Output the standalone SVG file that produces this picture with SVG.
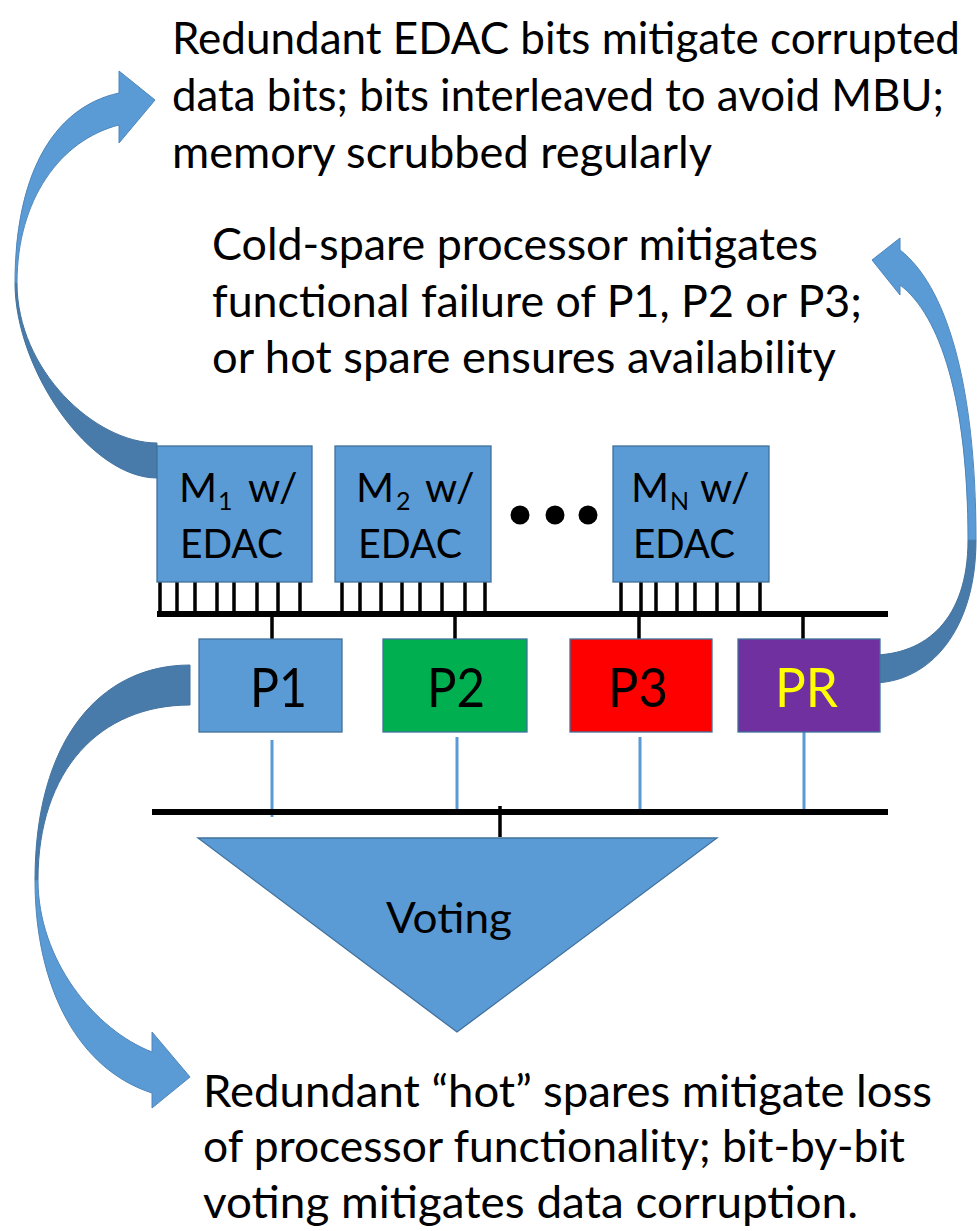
<svg xmlns="http://www.w3.org/2000/svg" width="977" height="1231" viewBox="0 0 977 1231">
<style>
.t{font-family:Lato,"Open Sans","Liberation Sans",sans-serif;fill:#000}
.blk{fill:#5B9BD5;stroke:#41719C;stroke-width:1.3}
.bus{stroke:#000;stroke-width:6;fill:none}
.pin{stroke:#000;stroke-width:3.5;fill:none}
.lb{stroke:#5B9BD5;stroke-width:3;fill:none}
.arL{fill:#5B9BD5;stroke:#4F86BA;stroke-width:1}
.arD{fill:#497BAA;stroke:#43739F;stroke-width:1}
.big{font-size:44px}
.mt{font-size:41px}
.sub{font-size:25px}
.pt{font-size:55px}
</style>
<rect width="977" height="1231" fill="#fff"/>

<g id="connectors">
  <g id="arrow-edac">
    <path class="arD" d="M15,283 C15,370 90,478 157,478 L157,443 C95,443 17,370 17,283 Z"/>
    <path class="arL" d="M119,93 C50,108 15,180 15,283 L17,283 C17,200 60,140 119,125 L119,143 L155,100 L119,71 Z"/>
  </g>
  <g id="arrow-spare">
    <path class="arD" d="M976,540 C976,630 930,683 872,683 L872,655 C925,655 968,620 968,540 Z"/>
    <path class="arL" d="M900,250 C945,285 976,380 976,540 L968,540 C968,400 940,315 900,285 L900,295 L872,260 L900,238 Z"/>
  </g>
  <g id="arrow-hot">
    <path class="arD" d="M190,665 C100,665 35,740 35,880 L38,880 C38,770 100,705 190,705 Z"/>
    <path class="arL" d="M35,880 C35,990 80,1070 152,1093 L152,1108 L190,1077 L152,1032 L152,1052 C95,1030 38,960 38,880 Z"/>
  </g>
  <g id="pins" class="pin">
    <path d="M160,582V612M177,582V612M195,582V612M217,582V612M234,582V612M257,582V612M278,582V612M300,582V612"/>
    <path d="M342,582V612M360,582V612M381,582V612M402,582V612M420,582V612M442,582V612M465,582V612M485,582V612"/>
    <path d="M621,582V612M641,582V612M656,582V612M677,582V612M695,582V612M717,582V612M738,582V612M760,582V612"/>
    <path d="M272,614V639M455,614V639M639,614V639M803,614V639"/>
  </g>
  <line class="bus" x1="157" y1="614" x2="888" y2="614"/>
  <g id="outputs" class="lb">
    <path d="M272,740V817M457,737V812M640,737V812M804,732V812"/>
  </g>
  <line class="bus" x1="152" y1="812" x2="888" y2="812"/>
  <line class="pin" x1="500" y1="806" x2="500" y2="837"/>
</g>

<g id="m1">
  <rect class="blk" x="157" y="446" width="155" height="136"/>
  <text class="t mt" y="502"><tspan x="179">M</tspan><tspan class="sub" x="218" dy="8">1</tspan><tspan x="248" dy="-8">w/</tspan></text>
  <text class="t mt" x="180" y="558" textLength="103" lengthAdjust="spacingAndGlyphs">EDAC</text>
</g>
<g id="m2">
  <rect class="blk" x="335" y="446" width="156" height="136"/>
  <text class="t mt" y="502"><tspan x="356">M</tspan><tspan class="sub" x="396" dy="8">2</tspan><tspan x="425" dy="-8">w/</tspan></text>
  <text class="t mt" x="358" y="558" textLength="104" lengthAdjust="spacingAndGlyphs">EDAC</text>
</g>
<g id="ellipsis">
  <circle cx="520" cy="515" r="9.5"/>
  <circle cx="555" cy="515" r="9.5"/>
  <circle cx="588" cy="515" r="9.5"/>
</g>
<g id="mn">
  <rect class="blk" x="613" y="446" width="156" height="136"/>
  <text class="t mt" y="502"><tspan x="631">M</tspan><tspan class="sub" x="670" dy="8">N</tspan><tspan x="700" dy="-8">w/</tspan></text>
  <text class="t mt" x="633" y="558" textLength="102" lengthAdjust="spacingAndGlyphs">EDAC</text>
</g>

<g id="p1">
  <rect class="blk" x="199" y="639" width="143" height="93"/>
  <text class="t pt" x="250" y="707" textLength="57" lengthAdjust="spacingAndGlyphs">P1</text>
</g>
<g id="p2">
  <rect x="383" y="639" width="144" height="93" fill="#00B050" stroke="#41719C" stroke-width="1.3"/>
  <text class="t pt" x="427" y="707" textLength="58" lengthAdjust="spacingAndGlyphs">P2</text>
</g>
<g id="p3">
  <rect x="570" y="639" width="142" height="93" fill="#FF0000" stroke="#41719C" stroke-width="1.3"/>
  <text class="t pt" x="608" y="707" textLength="60" lengthAdjust="spacingAndGlyphs">P3</text>
</g>
<g id="pr">
  <rect x="738" y="639" width="142" height="93" fill="#7030A0" stroke="#41719C" stroke-width="1.3"/>
  <text class="t pt" x="775" y="707" textLength="63" lengthAdjust="spacingAndGlyphs" style="fill:#FFFF00">PR</text>
</g>

<g id="voting">
  <polygon points="198,838 717,838 457,1032" fill="#5B9BD5" stroke="#41719C" stroke-width="1.3"/>
  <text class="t" x="386" y="933" font-size="42" textLength="126" lengthAdjust="spacingAndGlyphs">Voting</text>
</g>

<g id="note-edac" class="t big">
  <text x="172" y="54" textLength="788" lengthAdjust="spacingAndGlyphs">Redundant EDAC bits mitigate corrupted</text>
  <text x="172" y="111" textLength="772" lengthAdjust="spacingAndGlyphs">data bits; bits interleaved to avoid MBU;</text>
  <text x="172" y="168" textLength="540" lengthAdjust="spacingAndGlyphs">memory scrubbed regularly</text>
</g>
<g id="note-spare" class="t big">
  <text x="212" y="260" textLength="606" lengthAdjust="spacingAndGlyphs">Cold-spare processor mitigates</text>
  <text x="212" y="317" textLength="650" lengthAdjust="spacingAndGlyphs">functional failure of P1, P2 or P3;</text>
  <text x="212" y="373" textLength="624" lengthAdjust="spacingAndGlyphs">or hot spare ensures availability</text>
</g>
<g id="note-hot" class="t big">
  <text x="203" y="1107" textLength="729" lengthAdjust="spacingAndGlyphs">Redundant “hot” spares mitigate loss</text>
  <text x="203" y="1162" textLength="702" lengthAdjust="spacingAndGlyphs">of processor functionality; bit-by-bit</text>
  <text x="203" y="1218" textLength="655" lengthAdjust="spacingAndGlyphs">voting mitigates data corruption.</text>
</g>
</svg>
